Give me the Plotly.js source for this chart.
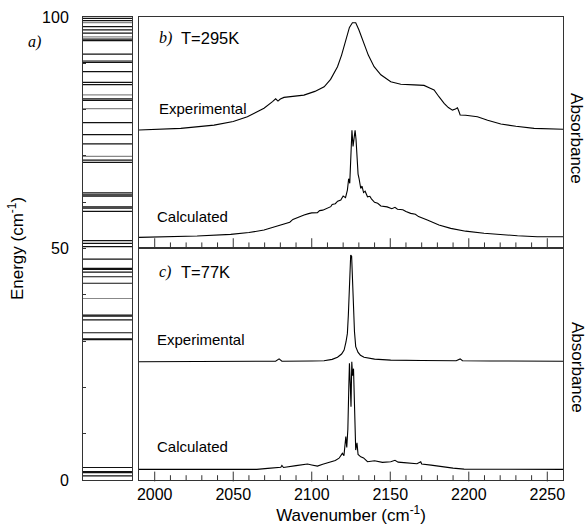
<!DOCTYPE html>
<html>
<head>
<meta charset="utf-8">
<script src="https://cdn.plot.ly/plotly-3.0.1.min.js"></script>
<style>html,body{margin:0;padding:0;background:#fff;}#plot{width:587px;height:527px;}</style>
</head>
<body>
<div id="plot"></div>
<script>
// ---- Data ----
// a) energy levels (cm^-1)
const levelsDark = [99.7, 99.2, 97.9, 97.2, 96.5, 95.2, 94.9, 92.0, 90.2, 90.5, 88.2, 85.9, 85.4,
  82.0, 82.3, 77.2, 74.6, 72.6, 69.1, 68.6, 62.0, 61.6, 61.3, 59.0, 58.7, 58.0, 51.7, 51.1, 50.4,
  47.7, 45.7, 45.5, 44.9, 43.9, 42.5, 35.6, 35.4, 34.6, 31.8, 30.5, 30.3, 2.7, 1.8, 1.6, 0.9];
const levelsLight = [98.8, 95.7, 83.2, 80.2, 69.9, 39.2];

// b) T=295K experimental
const wnB_exp = [1990, 2000, 2016.6, 2037.8, 2050, 2059, 2069.6, 2075, 2077, 2078.5, 2080, 2082.3, 2095, 2102,
  2107.9, 2112, 2116.4, 2119, 2121.7, 2124, 2125.9, 2128, 2130, 2133.3, 2136, 2139.7, 2144, 2150.3, 2156.7,
  2165.2, 2171.5, 2175.8, 2177.9, 2181, 2184.3, 2187, 2189.6, 2191.5, 2192.8, 2193.8, 2194.5, 2198, 2205.5,
  2212, 2220.4, 2230, 2241.6, 2260];
const absB_exp = [51.1, 51.4, 51.8, 53.2, 54.8, 56.8, 60.5, 63.4, 64.6, 63.6, 64.5, 65.2, 66.2, 67.8,
  69.8, 73, 78.5, 83.5, 90, 95.5, 97.5, 97.5, 94.5, 88.6, 83.5, 78.5, 75, 72, 70.9,
  70.6, 70.4, 69.1, 68.4, 65.5, 62.6, 60.8, 59.7, 60.2, 60.7, 59, 57.6, 57.5, 56.8,
  55.3, 53.7, 52.7, 51.8, 51.4];

// b) T=295K calculated
const wnB_calc = [1990, 2010, 2027, 2048.4, 2060, 2069.6, 2076, 2082.4, 2086, 2088, 2092, 2095.1, 2098, 2100, 2103.6, 2105, 2107, 2110,
  2112.1, 2113, 2115, 2116.5, 2118.5, 2120, 2121.5, 2122.7, 2123.5, 2124.2, 2125, 2125.6, 2126.3, 2127, 2127.6, 2128.2,
  2128.8, 2129.5, 2130.1, 2130.6, 2131.2, 2132, 2133, 2134, 2135.5, 2137, 2138, 2140, 2142, 2144, 2148, 2151, 2153, 2154.6, 2158,
  2160, 2163, 2166, 2168, 2173.6, 2175.8, 2181, 2188.5, 2198, 2209.7, 2220, 2231, 2243.6, 2260];
const absB_calc = [4.6, 4.9, 5.2, 5.9, 6.7, 7.8, 9.2, 10.7, 11.2, 12.4, 13.6, 14.3, 14.9, 15.2, 15.3, 16.2, 16.4, 17.2,
  17.9, 18.9, 19.2, 20.3, 20.8, 22.5, 21.8, 25.1, 30, 28, 42, 51, 44, 47.5, 51, 47,
  38, 32, 30.2, 27.5, 25.8, 26.8, 24, 24.6, 22.2, 22.4, 21.3, 19.8, 19.4, 18.2, 17.8, 17.0, 17.6, 16.8, 16.6,
  15.8, 15, 14.6, 13.6, 12.1, 11.4, 10, 8.5, 7.3, 6.4, 5.8, 5.3, 4.9, 4.9];

// c) T=77K experimental
const wnC_exp = [1990, 2020, 2050, 2077, 2079.2, 2081, 2100, 2107.8, 2113, 2116.4, 2119, 2120.6, 2121.8, 2122.7,
  2123.3, 2123.8, 2124.3, 2124.8, 2125.4, 2125.9, 2126.5, 2127.2, 2128, 2129.5, 2131, 2133.3, 2140, 2150.3,
  2170, 2192, 2194.5, 2196, 2214, 2260];
const absC_exp = [51.0, 51.0, 51.1, 51.2, 52.2, 51.2, 51.3, 51.4, 52.0, 52.9, 54.3, 56, 59.5, 63.2,
  71, 81.9, 91, 97, 96.5, 86, 74.7, 64, 57.5, 55, 53.8, 52.9, 52.1, 51.7,
  51.5, 51.4, 52.2, 51.4, 51.3, 51.2];

// c) T=77K calculated
const wnC_calc = [1990, 2030, 2065, 2072, 2078, 2080.3, 2081, 2082, 2090, 2097.3, 2100, 2103.6, 2107, 2110,
  2112.1, 2115, 2117.4, 2118.5, 2119.5, 2120.5, 2121.2, 2121.7, 2122.3, 2123, 2123.6, 2124, 2124.5, 2125,
  2125.5, 2126, 2126.6, 2127.2, 2127.6, 2128, 2128.8, 2129.5, 2131.2, 2133, 2135.5, 2140, 2145, 2150.3,
  2153, 2155, 2158.7, 2163, 2167, 2169.4, 2170, 2176, 2182.2, 2190, 2197, 2260];
const absC_calc = [4.6, 4.6, 4.6, 5.0, 5.3, 5.5, 6.3, 5.4, 6.2, 6.9, 6.5, 6.0, 6.8, 7.4,
  7.9, 8.4, 9.4, 10.3, 11.5, 10.5, 16, 18.7, 14, 22, 40, 50.3, 42, 31.6,
  51, 45, 48, 30, 15, 12.9, 16, 11, 10, 9.5, 7.9, 8.3, 7.6, 7.9,
  8.5, 7.7, 7.5, 7.4, 7.0, 7.9, 6.9, 6.4, 5.7, 5.1, 4.7, 4.6];

// tick values
const xMajorTicks = [2000, 2050, 2100, 2150, 2200, 2250];
const xMinorTicks = [2010, 2020, 2030, 2040, 2060, 2070, 2080, 2090, 2110, 2120, 2130, 2140,
  2160, 2170, 2180, 2190, 2210, 2220, 2230, 2240];
const xRange = [1990, 2260];
const yTick0 = 0, yTickStep = 50, yMinorStep = 10;

// ---- Build traces ----
function levelTrace(levels, color) {
  const xs = [], ys = [];
  levels.forEach(e => { xs.push(0, 1, null); ys.push(e, e, null); });
  return {x: xs, y: ys, xaxis: 'x', yaxis: 'y', mode: 'lines', type: 'scatter',
    line: {color: color, width: 1.2}, hoverinfo: 'skip'};
}
// tick marks along the bottom edge of a spectrum panel (half of each marker is clipped => inward ticks)
function tickTrace(vals, size, xa, ya, yPos, clip) {
  return {x: vals, y: vals.map(() => yPos), xaxis: xa, yaxis: ya, mode: 'markers', type: 'scatter', cliponaxis: clip,
    marker: {symbol: 'line-ns-open', size: size, color: '#333', line: {color: '#333', width: 1}}, hoverinfo: 'skip'};
}
const specLine = {color: '#000', width: 1.1};
const traces = [
  levelTrace(levelsLight, '#888'),
  levelTrace(levelsDark, '#111'),
  {x: wnB_exp, y: absB_exp, xaxis: 'x3', yaxis: 'y2', mode: 'lines', type: 'scatter', line: specLine},
  {x: wnB_calc, y: absB_calc, xaxis: 'x3', yaxis: 'y2', mode: 'lines', type: 'scatter', line: specLine},
  {x: wnC_exp, y: absC_exp, xaxis: 'x2', yaxis: 'y3', mode: 'lines', type: 'scatter', line: specLine},
  {x: wnC_calc, y: absC_calc, xaxis: 'x2', yaxis: 'y3', mode: 'lines', type: 'scatter', line: specLine},
  tickTrace(xMajorTicks, 14, 'x3', 'y2', 0, true),
  tickTrace(xMinorTicks, 8, 'x3', 'y2', 0, true),
  tickTrace(xMajorTicks, 7, 'x2', 'y3', 1.5, false),
  tickTrace(xMinorTicks, 4, 'x2', 'y3', 0.86, false)
];

const F = 'Liberation Sans, Arial, sans-serif';
const SERIF = 'Liberation Serif, Times New Roman, serif';
const LC = '#333';

const layout = {
  width: 587, height: 527,
  margin: {l: 83, r: 24, t: 17, b: 47},
  paper_bgcolor: '#fff', plot_bgcolor: '#fff',
  showlegend: false,
  font: {family: F, size: 16, color: '#000'},
  xaxis: {domain: [0, 0.102], range: [0, 1], anchor: 'y', showline: true, mirror: true, linecolor: LC,
    showticklabels: false, ticks: '', showgrid: false, zeroline: false},
  yaxis: {domain: [0, 1], range: [0, 100], anchor: 'x', showline: true, mirror: true, linecolor: LC,
    tick0: yTick0, dtick: yTickStep, ticks: 'inside', ticklen: 3, tickcolor: LC, ticklabelstandoff: 10,
    minor: {dtick: yMinorStep, ticks: 'inside', ticklen: 3, tickcolor: LC, showgrid: false},
    showgrid: false, zeroline: false, tickfont: {family: F, size: 16},
    title: {text: 'Energy (cm<sup>-1</sup>)', font: {family: F, size: 17}, standoff: 14}},
  xaxis2: {domain: [0.1167, 1], range: xRange, anchor: 'y3', showline: true, mirror: true, linecolor: LC,
    tickvals: xMajorTicks, ticktext: xMajorTicks.map(String), ticks: '', showgrid: false, zeroline: false,
    tickfont: {family: F, size: 16},
    title: {text: 'Wavenumber (cm<sup>-1</sup>)', font: {family: F, size: 17}, standoff: 3}},
  xaxis3: {domain: [0.1167, 1], range: xRange, anchor: 'y2', showline: true, mirror: true, linecolor: LC,
    ticks: '', showgrid: false, zeroline: false, showticklabels: false},
  yaxis2: {domain: [0.501, 1], range: [0, 100], anchor: 'x3', showline: true, mirror: true, linecolor: LC,
    showticklabels: false, ticks: '', showgrid: false, zeroline: false},
  yaxis3: {domain: [0, 0.501], range: [0, 100], anchor: 'x2', showline: true, mirror: true, linecolor: LC,
    showticklabels: false, ticks: '', showgrid: false, zeroline: false},
  annotations: [
    {text: '<i>a)</i>', xref: 'paper', yref: 'paper', x: -0.102, y: 0.946, xanchor: 'center', yanchor: 'middle', showarrow: false, font: {family: SERIF, size: 16}},
    {text: '<i>b)</i>', xref: 'paper', yref: 'paper', x: 0.1535, y: 0.955, xanchor: 'left', yanchor: 'middle', showarrow: false, font: {family: SERIF, size: 16}},
    {text: 'T=295K', xref: 'paper', yref: 'paper', x: 0.200, y: 0.955, xanchor: 'left', yanchor: 'middle', showarrow: false, font: {family: F, size: 16.5}},
    {text: '<i>c)</i>', xref: 'paper', yref: 'paper', x: 0.1535, y: 0.45, xanchor: 'left', yanchor: 'middle', showarrow: false, font: {family: SERIF, size: 16}},
    {text: 'T=77K', xref: 'paper', yref: 'paper', x: 0.200, y: 0.45, xanchor: 'left', yanchor: 'middle', showarrow: false, font: {family: F, size: 16.5}},
    {text: 'Experimental', xref: 'paper', yref: 'paper', x: 0.1535, y: 0.803, xanchor: 'left', yanchor: 'middle', showarrow: false, font: {family: F, size: 15}},
    {text: 'Calculated', xref: 'paper', yref: 'paper', x: 0.150, y: 0.569, xanchor: 'left', yanchor: 'middle', showarrow: false, font: {family: F, size: 15}},
    {text: 'Experimental', xref: 'paper', yref: 'paper', x: 0.150, y: 0.3045, xanchor: 'left', yanchor: 'middle', showarrow: false, font: {family: F, size: 15}},
    {text: 'Calculated', xref: 'paper', yref: 'paper', x: 0.150, y: 0.0713, xanchor: 'left', yanchor: 'middle', showarrow: false, font: {family: F, size: 15}},
    {text: 'Absorbance', xref: 'paper', yref: 'paper', x: 1.029, y: 0.7365, xanchor: 'center', yanchor: 'middle', textangle: 90, showarrow: false, font: {family: F, size: 17}},
    {text: 'Absorbance', xref: 'paper', yref: 'paper', x: 1.029, y: 0.242, xanchor: 'center', yanchor: 'middle', textangle: 90, showarrow: false, font: {family: F, size: 17}}
  ]
};

Plotly.newPlot('plot', traces, layout, {displayModeBar: false, staticPlot: true});
</script>
</body>
</html>
